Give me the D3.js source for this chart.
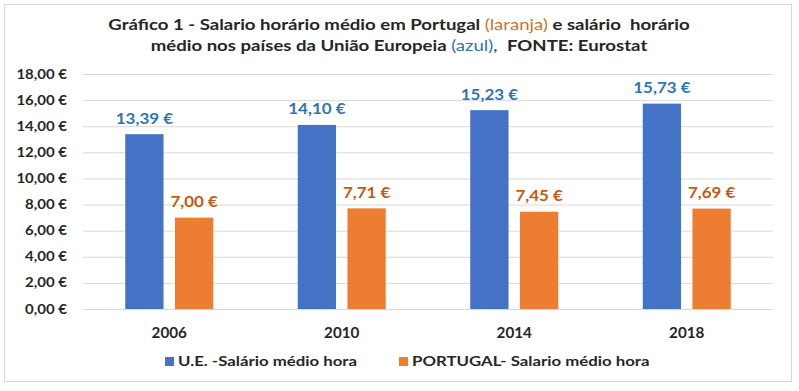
<!DOCTYPE html>
<html><head><meta charset="utf-8">
<script src="https://cdn.jsdelivr.net/npm/d3@7"></script>
<style>body{margin:0;background:#fff}svg{display:block}text{font-family:Lato,"Open Sans",sans-serif;font-weight:bold}</style>
</head><body><svg id="c" width="799" height="391"></svg>
<script>
const years = ["2006","2010","2014","2018"];
const ueValues = [13.39,14.10,15.23,15.73];
const ptValues = [7.00,7.71,7.45,7.69];
const seriesNames = ["U.E. -Salário médio hora","PORTUGAL- Salario médio hora"];
const yTicks = [0,2,4,6,8,10,12,14,16,18];

const colors = ["#4472C4","#ED7D31"];
const labelColors = ["#2E75B6","#C55A11"];
const fmt = v => d3.format(".2f")(v).replace(".", ",") + " €";
const stretch = (k, x) => `translate(${x},0) scale(${k},1) translate(${-x},0)`;

const svg = d3.select("#c");
svg.append("rect").attr("x",4.5).attr("y",4.5).attr("width",787).attr("height",377)
  .attr("fill","#fff").attr("stroke","#d9d9d9");

const x0 = d3.scaleBand().domain(years).range([83,773]).paddingInner(0).paddingOuter(0);
const y = d3.scaleLinear().domain([0,18]).range([309,74]);
const x1 = d3.scaleBand().domain([0,1]).range([0,88]).paddingInner(0.23).paddingOuter(0);

// grid
svg.append("g").selectAll("line").data(yTicks).join("line")
  .attr("x1",83).attr("x2",773).attr("y1",d=>y(d)+0.5).attr("y2",d=>y(d)+0.5)
  .attr("stroke","#d9d9d9").attr("stroke-width",1);

// y axis labels
const yAxis = d3.axisLeft(y).tickValues(yTicks).tickFormat(fmt).tickSize(0).tickPadding(0);
const ya = svg.append("g").attr("transform","translate(67,0)").call(yAxis);
ya.select(".domain").remove();
ya.selectAll("text").attr("font-size",12.5).attr("fill","#262626").attr("font-family","Lato, sans-serif")
  .attr("font-weight","bold").attr("transform","scale(1.2,1)");

// x axis labels
const xAxis = d3.axisBottom(x0).tickSize(0).tickPadding(0);
const xa = svg.append("g").attr("transform","translate(0,328)").call(xAxis);
xa.select(".domain").remove();
xa.selectAll("text").attr("font-size",14.5).attr("fill","#262626").attr("font-family","Lato, sans-serif")
  .attr("font-weight","bold").attr("transform","scale(1.05,1)");

const series = [ueValues, ptValues];
const groups = svg.append("g").selectAll("g").data(years).join("g")
  .attr("transform",d=>`translate(${x0(d)+(x0.bandwidth()-88)/2},0)`);
[0,1].forEach(s=>{
  groups.append("rect")
    .attr("x",x1(s)).attr("width",x1.bandwidth())
    .attr("y",(d,i)=>y(series[s][i])).attr("height",(d,i)=>y(0)-y(series[s][i]))
    .attr("fill",colors[s]);
  const cx = x1(s)+x1.bandwidth()/2;
  groups.append("text")
    .attr("x",cx).attr("y",(d,i)=>y(series[s][i])-10.5)
    .attr("text-anchor","middle").attr("font-size",14.5).attr("fill",labelColors[s])
    .attr("transform",stretch(1.17,cx))
    .text((d,i)=>fmt(series[s][i]));
});

// title
const t = svg.append("text").attr("text-anchor","middle").attr("font-size",15.5).attr("fill","#262626")
  .attr("transform",stretch(1.2,399)).style("white-space","pre");
const l1 = t.append("tspan").attr("x",399).attr("y",30);
l1.append("tspan").text("Gráfico 1 - Salario horário médio em Portugal ");
l1.append("tspan").attr("fill","#D0722F").attr("font-weight","normal").text("(laranja)");
l1.append("tspan").text(" e salário  horário");
const l2 = t.append("tspan").attr("x",399).attr("y",51);
l2.append("tspan").text("médio nos países da União Europeia ");
l2.append("tspan").attr("fill","#2E75B6").attr("font-weight","normal").text("(azul)");
l2.append("tspan").attr("font-weight","normal").text(",  ");
l2.append("tspan").text("FONTE: Eurostat");

// legend
const leg = svg.append("g");
const legX = [165, 399];
seriesNames.forEach((n,i)=>{
  leg.append("rect").attr("x",legX[i]).attr("y",357).attr("width",9).attr("height",9).attr("fill",colors[i]);
  leg.append("text").attr("x",legX[i]+13).attr("y",366).attr("font-size",14).attr("fill","#262626")
    .attr("transform",stretch(1.2,legX[i]+13)).text(n);
});
</script></body></html>
